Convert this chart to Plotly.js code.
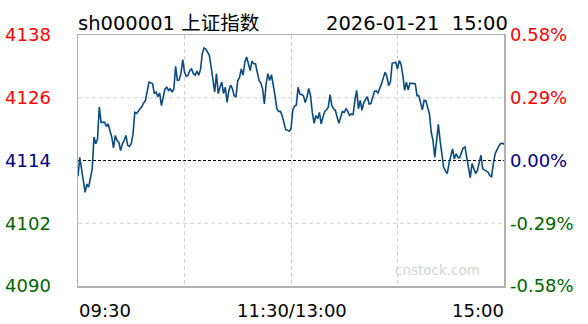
<!DOCTYPE html>
<html><head><meta charset="utf-8">
<script src="https://cdn.plot.ly/plotly-3.0.1.min.js"></script>
<style>html,body{margin:0;padding:0;background:#fff}#chart{width:588px;height:324px}</style>
</head><body><div id="chart"></div>
<script>
const titleName = 'sh000001 上证指数';
const titleTime = '2026-01-21\u00a0\u00a015:00';
const prevClose = 4114;
const minutes = [0,1,4,5,6,7,8,9,10,11,12,13,15,16,17,18,19,20,21,22,23,24,25,26,27,28,29,30,31,32,33,35,36,37,38,40,
  41,42,43,44,45,46,47,48,49,50,51,52,53,54,55,56,57,58,59,60,61,62,63,64,65,66,67,68,69,70,71,72,74,75,76,77,78,79,80,
  81,82,83,84,85,86,87,88,89,90,91,92,93,94,95,96,97,98,99,100,101,102,103,104,105,106,107,108,109,110,111,112,113,114,
  115,116,117,118,119,120,121,122,123,124,125,126,127,128,129,130,131,132,133,134,135,136,137,138,139,140,141,142,143,
  144,145,146,147,148,149,150,151,152,153,154,155,156,157,158,159,160,161,163,164,165,167,168,169,171,173,174,175,176,
  177,179,180,181,182,183,184,185,186,187,189,190,191,192,194,195,196,198,199,200,201,202,203,204,205,206,207,208,209,
  210,211,212,213,214,215,217,218,219,220,221,222,224,225,226,227,228,230,231,232,233,234,235,237,238,239,240];
const prices = [4111.0,4114.6,4107.9,4109.5,4108.9,4110.8,4112.4,4118.5,4117.2,4118.1,4124.2,4121.3,4121.3,4120.5,4121.0,
  4119.7,4118.5,4116.4,4118.8,4117.8,4117.5,4115.9,4117.2,4117.8,4118.8,4116.9,4116.7,4117.2,4119.1,4123.2,4123.0,4123.9,
  4124.3,4125.0,4125.5,4129.0,
  4128.9,4128.7,4126.8,4127.1,4126.2,4126.9,4124.5,4126.1,4127.7,4128.0,4127.4,4127.7,4127.1,4127.7,4132.0,4129.3,4129.4,
  4130.6,4133.3,4130.9,4130.1,4130.3,4131.2,4131.5,4130.6,4130.3,4131.1,4130.3,4131.4,4134.4,4135.5,4135.3,4134.1,4131.9,
  4129.0,4127.1,4130.6,4126.8,4128.0,
  4129.0,4126.8,4128.0,4125.1,4127.4,4128.4,4127.7,4126.4,4126.2,4129.3,4129.9,4131.5,4130.3,4132.8,4133.8,4132.5,4131.2,
  4133.0,4132.5,4132.5,4130.6,4129.3,4128.8,4127.7,4124.8,4128.7,4130.6,4129.3,4130.4,4128.7,4126.4,4123.9,4123.4,4123.4,
  4122.6,4121.3,4119.9,4119.8,4119.6,4120.1,4123.6,4124.4,4124.6,4128.0,4126.7,4126.6,4126.4,4125.1,4126.1,4127.8,4126.4,
  4123.2,4121.1,4122.6,4122.0,4123.2,4121.0,4122.3,4123.4,4123.7,4124.2,4126.6,4124.5,
  4123.9,4123.6,4122.3,4121.1,4122.3,4123.4,4123.2,4123.9,4123.4,4122.6,4122.9,4122.8,4125.5,4127.4,4123.9,4125.5,4123.6,
  4125.1,4126.2,4124.8,4124.9,4127.2,4127.3,4126.9,4128.7,4130.9,4130.1,4128.3,4129.0,
  4132.6,4132.8,4131.5,4133.1,4132.4,4130.3,4127.4,4129.0,4127.5,4128.8,4128.8,4128.7,4126.4,4126.4,4123.7,4125.5,4125.4,
  4122.9,4119.4,4117.8,4114.6,4117.8,4120.9,4117.8,4114.6,4112.7,4112.0,4111.5,4113.4,
  4115.0,4116.2,4114.3,4115.3,4114.6,4114.5,4116.4,4116.6,4114.6,4112.7,4110.7,4113.4,4111.5,4112.1,4113.4,4115.0,4112.4,
  4112.1,4111.8,4111.1,4110.9,4113.4,4115.3,4116.7,4117.2,4117.3,4117.1];
const priceTicks = [4138, 4126, 4114, 4102, 4090];
const priceLabels = ['4138', '4126', '4114', '4102', '4090'];
const pctLabels = ['0.58%', '0.29%', '0.00%', '-0.29%', '-0.58%'];
const tickColors = ['#ff0000', '#ff0000', '#000080', '#006400', '#006400'];
const gridPrices = [4126, 4102];
const timeTicks = [0, 120, 240];
const timeLabels = ['09:30', '11:30/13:00', '15:00'];
const gridTimes = [60, 120, 180];
const watermark = 'cnstock.com';

const FONT = 'DejaVu Sans, Verdana, Noto Sans CJK SC, sans-serif';
const colored = (labels) => labels.map((t, i) => '<span style="color:' + tickColors[i] + '">' + t + '</span>');

const traces = [
  {x: minutes, y: prices, type: 'scatter', mode: 'lines', line: {color: '#0b4a7e', width: 1.6}, hoverinfo: 'skip', showlegend: false},
  {x: [minutes[0]], y: [prevClose], yaxis: 'y2', type: 'scatter', mode: 'markers', marker: {opacity: 0}, hoverinfo: 'skip', showlegend: false}
];

const anchors = ['left', 'center', 'right'];
const annotations = timeLabels.map((t, i) => ({
  text: t, x: timeTicks[i], xref: 'x', y: 0, yref: 'paper', xanchor: anchors[i], yanchor: 'middle',
  yshift: -24, xshift: i === 0 ? -1 : (i === 2 ? 2 : 1), showarrow: false, font: {family: FONT, size: 18, color: '#000'}
}));
annotations.push({text: titleName, x: 0, xref: 'paper', y: 1, yref: 'paper', xanchor: 'left', yanchor: 'middle',
  yshift: 12, xshift: -2, showarrow: false, font: {family: FONT, size: 19.5, color: '#000'}});
annotations.push({text: titleTime, x: 1, xref: 'paper', y: 1, yref: 'paper', xanchor: 'right', yanchor: 'middle',
  yshift: 12, xshift: 6, showarrow: false, font: {family: FONT, size: 19.5, color: '#000'}});
annotations.push({text: watermark, x: 1, xref: 'paper', y: 0, yref: 'paper', xanchor: 'right', yanchor: 'middle',
  yshift: 16, xshift: -22, showarrow: false, font: {family: FONT, size: 13.5, color: '#d4d4d4'}});

const shapes = gridPrices.map(p => ({type: 'line', xref: 'paper', x0: 0, x1: 1, yref: 'y', y0: p, y1: p,
  line: {color: '#d0d0d0', width: 1, dash: '4px,3px'}, layer: 'below'}));
shapes.push({type: 'line', xref: 'paper', x0: 0, x1: 1, yref: 'y', y0: prevClose, y1: prevClose,
  line: {color: '#000', width: 1, dash: '3px,2px'}, layer: 'below'});

const layout = {
  width: 588, height: 324,
  margin: {l: 78, r: 84, t: 35, b: 38, pad: 0},
  paper_bgcolor: '#fff', plot_bgcolor: '#fff',
  showlegend: false,
  xaxis: {range: [0, 240], tickvals: gridTimes, showticklabels: false, ticks: '',
    showgrid: true, gridcolor: '#d0d0d0', griddash: '4px,3px', gridwidth: 1,
    zeroline: false, showline: true, mirror: true, linecolor: '#b0b0b0', linewidth: 1.5, fixedrange: true},
  yaxis: {range: [priceTicks[4], priceTicks[0]], tickvals: priceTicks, ticktext: colored(priceLabels), ticks: '',
    ticklabelstandoff: 22, tickfont: {family: FONT, size: 18}, showgrid: false,
    zeroline: false, showline: true, mirror: true, linecolor: '#b0b0b0', linewidth: 1.5, fixedrange: true},
  yaxis2: {overlaying: 'y', side: 'right', range: [priceTicks[4], priceTicks[0]], tickvals: priceTicks,
    ticktext: colored(pctLabels), ticks: '', ticklabelstandoff: 5, tickfont: {family: FONT, size: 18},
    showgrid: false, zeroline: false, showline: false, fixedrange: true},
  shapes: shapes,
  annotations: annotations
};

Plotly.newPlot('chart', traces, layout, {staticPlot: true, displayModeBar: false});
</script>
</body></html>
